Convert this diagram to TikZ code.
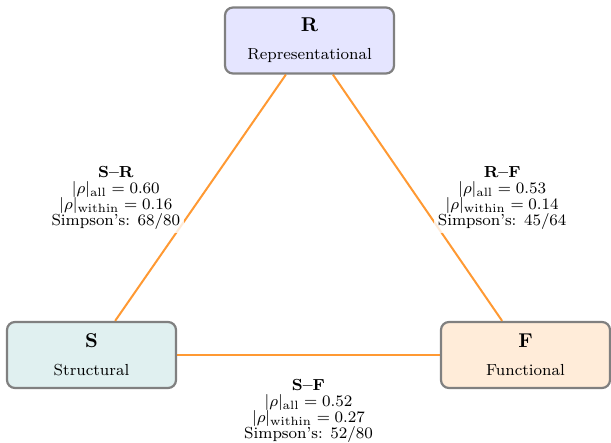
\documentclass[tikz,border=0pt]{standalone}
\usetikzlibrary{positioning}

\definecolor{linkorange}{RGB}{255,128,0}

\tikzset{
  dimbox/.style={draw=gray, line width=1.1pt, rounded corners=4pt,
    minimum width=84.5pt, minimum height=33pt, align=center},
  link/.style={draw=linkorange, opacity=0.8, line width=1pt},
  corr/.style={fill=white, fill opacity=0.8, text opacity=1,
    align=center, font=\footnotesize, inner sep=2pt},
}

\begin{document}
\begin{tikzpicture}[x=0.5pt, y=-0.5pt]
\useasboundingbox (0,0) rectangle (611,443);

% the three dimensions
\node[dimbox, fill=blue!10] (rep) at (309.5,40.5) {\textbf{R}\\[2pt]{\footnotesize Representational}};
\node[dimbox, fill=teal!12] (str) at (91.5,355) {\textbf{S}\\[2pt]{\footnotesize Structural}};
\node[dimbox, fill=orange!15] (fun) at (525.5,355) {\textbf{F}\\[2pt]{\footnotesize Functional}};

% pairwise links with correlations
\draw[link] (str) -- (rep);
\draw[link] (rep) -- (fun);
\draw[link] (str) -- (fun);

\path (str) -- node[corr, left=8pt] (srlab) {\textbf{S--R}\\[-1.5pt]$|\rho|_{\mathrm{all}} = 0.60$\\[-1.5pt]$|\rho|_{\mathrm{within}} = 0.16$\\[-1.5pt]Simpson's: 68/80} (rep);
\path (rep) -- node[corr, right=8pt] (rflab) {\textbf{R--F}\\[-1.5pt]$|\rho|_{\mathrm{all}} = 0.53$\\[-1.5pt]$|\rho|_{\mathrm{within}} = 0.14$\\[-1.5pt]Simpson's: 45/64} (fun);
\path (str) -- node[corr, below=10pt] (sflab) {\textbf{S--F}\\[-1.5pt]$|\rho|_{\mathrm{all}} = 0.52$\\[-1.5pt]$|\rho|_{\mathrm{within}} = 0.27$\\[-1.5pt]Simpson's: 52/80} (fun);
\end{tikzpicture}
\end{document}
